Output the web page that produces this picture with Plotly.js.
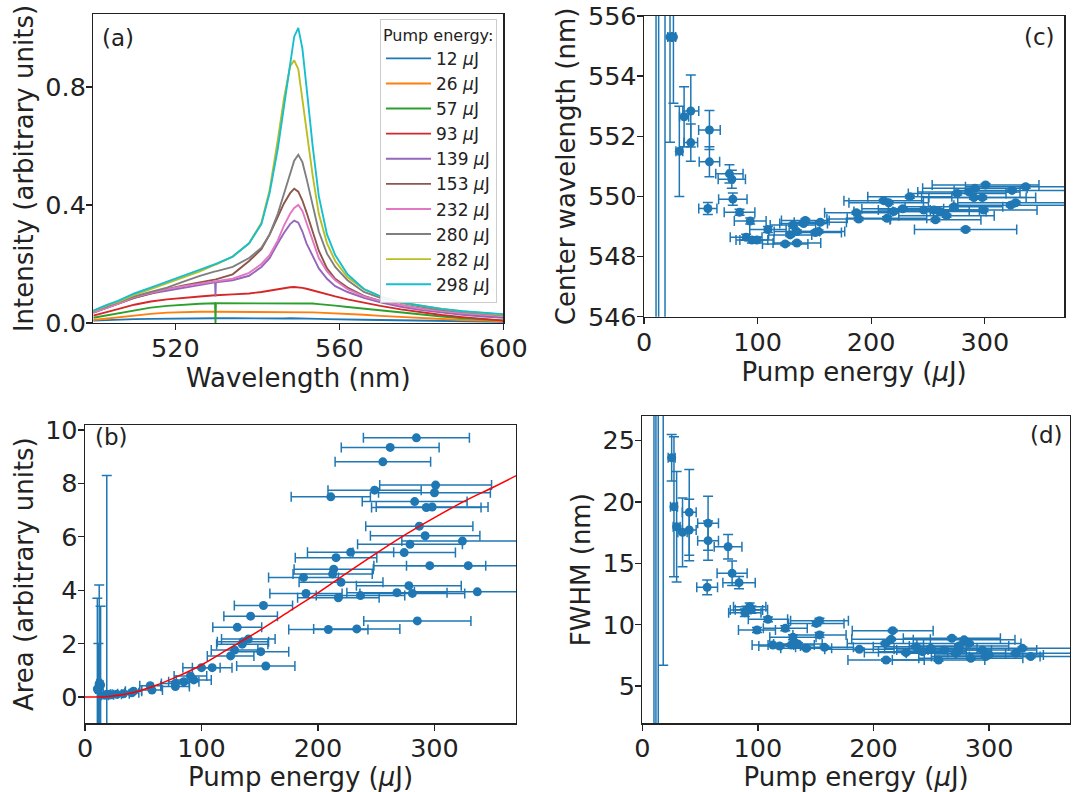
<!DOCTYPE html>
<html><head><meta charset="utf-8">
<script src="https://cdn.plot.ly/plotly-3.0.1.min.js"></script>
<style>html,body{margin:0;padding:0;background:#fff;}#chart{width:1073px;height:792px;}</style>
</head><body><div id="chart"></div>
<script>
// ---------- Panel (a): spectra ----------
const wavelength = [500,503,506,510,514,518,522,526,529.7,529.8,529.9,534,538,541,543,545,546.5,548,549,550,551,552,553.5,555,557,559,562,566,570,575,580,585,590,595,600];
const pumpLabels = ['12','26','57','93','139','153','232','280','282','298'];
const spec12  = [0.008,0.010,0.012,0.013,0.014,0.015,0.016,0.016,0.016,0.016,0.016,0.016,0.015,0.015,0.015,0.015,0.015,0.016,0.016,0.016,0.016,0.015,0.015,0.014,0.013,0.013,0.012,0.011,0.010,0.009,0.008,0.007,0.006,0.005,0.004];
const spec26  = [0.010,0.015,0.020,0.026,0.031,0.035,0.037,0.038,0.038,0.038,0.038,0.037,0.036,0.036,0.036,0.037,0.037,0.038,0.038,0.038,0.037,0.037,0.036,0.035,0.034,0.033,0.031,0.028,0.024,0.020,0.017,0.013,0.010,0.008,0.006];
const spec57  = [0.018,0.025,0.032,0.043,0.052,0.058,0.062,0.065,0.067,0.000,0.067,0.067,0.067,0.067,0.067,0.068,0.068,0.068,0.068,0.068,0.068,0.067,0.066,0.064,0.062,0.059,0.054,0.048,0.042,0.035,0.028,0.022,0.016,0.012,0.009];
const spec93  = [0.025,0.035,0.047,0.062,0.073,0.080,0.086,0.090,0.094,0.094,0.094,0.097,0.100,0.105,0.110,0.115,0.118,0.121,0.122,0.121,0.119,0.116,0.110,0.104,0.097,0.090,0.080,0.068,0.058,0.046,0.036,0.027,0.020,0.013,0.008];
const spec139 = [0.035,0.050,0.065,0.085,0.100,0.110,0.120,0.130,0.138,0.090,0.138,0.145,0.160,0.190,0.220,0.270,0.305,0.335,0.347,0.340,0.310,0.270,0.225,0.185,0.150,0.125,0.105,0.085,0.070,0.055,0.044,0.035,0.028,0.022,0.018];
const spec153 = [0.035,0.050,0.063,0.085,0.100,0.115,0.127,0.138,0.148,0.148,0.148,0.165,0.210,0.250,0.300,0.360,0.405,0.440,0.455,0.445,0.415,0.375,0.310,0.245,0.185,0.150,0.120,0.092,0.075,0.060,0.048,0.040,0.033,0.027,0.022];
const spec232 = [0.035,0.050,0.065,0.088,0.102,0.115,0.125,0.133,0.140,0.140,0.140,0.150,0.170,0.200,0.230,0.280,0.330,0.370,0.390,0.400,0.380,0.340,0.280,0.220,0.175,0.145,0.115,0.090,0.075,0.060,0.048,0.040,0.033,0.028,0.023];
const spec280 = [0.040,0.055,0.068,0.090,0.105,0.120,0.140,0.160,0.175,0.175,0.175,0.190,0.220,0.255,0.300,0.370,0.440,0.510,0.550,0.570,0.545,0.490,0.400,0.310,0.235,0.190,0.145,0.105,0.085,0.068,0.055,0.045,0.038,0.032,0.027];
const spec282 = [0.040,0.058,0.072,0.095,0.115,0.135,0.155,0.175,0.198,0.198,0.198,0.225,0.270,0.340,0.450,0.620,0.760,0.870,0.890,0.860,0.760,0.660,0.500,0.370,0.270,0.210,0.155,0.115,0.090,0.070,0.058,0.048,0.040,0.034,0.028];
const spec298 = [0.042,0.060,0.075,0.100,0.120,0.140,0.160,0.180,0.200,0.200,0.200,0.225,0.270,0.335,0.440,0.590,0.730,0.880,0.970,1.000,0.930,0.800,0.600,0.430,0.300,0.230,0.165,0.115,0.090,0.070,0.058,0.048,0.040,0.035,0.030];
const spectra = [spec12,spec26,spec57,spec93,spec139,spec153,spec232,spec280,spec282,spec298];
const specColors = ['#1f77b4','#ff7f0e','#2ca02c','#d62728','#9467bd','#8c564b','#e377c2','#7f7f7f','#bcbd22','#17becf'];

// ---------- Panel (b): area vs pump energy ----------
const bEnergy    = [284.5,262,255.7,301,248.6,300,211,283,293,298, 287,292,324,279,228,274,215.5,296,329,213.5, 212.6,187.6,219.8,278,189.7,267.8,281,336.8,236.5,217.5, 153.2,142.2,130.7,285.3,208.9,233.3,140.2,135.6,135,128.4, 150.9,125,155.2,100,109.2,90.5,93.4,84.8,77.6,77.6, 56,57.5,41.7,40.2,33,27.3,21.6,17.2];
const bArea      = [9.71,9.35,8.81,7.94,7.75,7.65,7.5,7.32,7.1,7.12, 6.4,6.04,5.84,5.72,5.42,5.41,5.22,4.92,4.92,4.79, 4.61,4.48,4.3,4.17,3.88,3.91,3.88,3.94,3.8,3.72, 3.43,3.03,2.61,2.85,2.53,2.55,2.17,2.07,1.98,1.76, 1.7,1.54,1.16,1.1,1.1,0.79,0.64,0.57,0.39,0.51, 0.42,0.26,0.22,0.16,0.12,0.10,0.08,0.07];
const bEnergyErr = [45.5,42,41,48,40,48,34,45,47,48, 46,47,52,45,37,44,35,48,53,34, 34,30,36,45,31,43,45,54,38,35, 25,23,21,46,34,37,23,22,22,20, 24,20,25,16,17,14,15,13,12,12, 9,9,7,6,5,4,3,3];
const bLowEnergy    = [10.6,12.2,13.4,18.7,11.5];
const bLowArea      = [0.30,0.50,0.45,0.10,0.30];
const bLowEnergyErr = [1.5,2,2,3,1.8];
const bLowAreaErr   = [3.4,3.7,2.95,8.2,1.7];
const fitEnergy = [0,20,40,60,80,100,125,150,175,200,225,250,275,300,325,350,371];
const fitArea   = [0,0.02,0.15,0.42,0.78,1.2,1.85,2.5,3.2,3.9,4.65,5.38,6.08,6.72,7.32,7.85,8.31];

// ---------- Panel (c): center wavelength ----------
const cEnergy    = [22.9,25.9,31.1,35.3,41.2,41.2,57.6,57.6,56.2,75.2, 77.3,78.2,84.1,93.5,89.9,95,99.4,109.1,124.3,134.6, 128.7,134.6,150.8,153.7,131.1,140.5,142,155.2,187,189, 211,215.4,213.9,219.8,227.8,234,246.3,256.6,260.1,266.3, 283.1,272.8,275.7,290.4,297.8,300.7,291.3,299,322.8,327.2, 336,324,286,255.3,10.6,12.9,18.5];
const cCenter    = [555.3,555.3,551.5,552.65,552.84,551.79,552.21,551.15,549.6,550.75, 550.57,549.91,549.47,549.18,548.64,548.55,548.55,548.9,548.42,548.45, 548.72,548.83,548.8,548.83,549.05,549.1,549.2,549.14,549.46,549.25, 549.86,549.79,549.27,549.5,549.59,549.99,549.55,549.22,549.5,549.36, 548.9,549.66,550.1,549.96,549.96,550.38,550.27,549.55,549.71,549.79, 550.32,550.2,550.15,549.55,560,560,560];
const cEnergyErr = [2,2,3,4,7,6,9.5,9,8,12, 12,12.5,13.5,14,14,14,15,16,20,21, 19,20,23,23,20,21,21,23,28,28, 35,35,35,35,36,37,40,40,41,42, 45,43,43,46,47,47,46,47,50,51, 53,51,45,40,1.5,2,3];
const cCenterErr = [3.5,2.2,1.5,1.0,1.2,0.62,0.65,0.5,0.2,0.3, 0.3,0.2,0.1,0.1,0.1,0.1,0.1,0.1,0.05,0.05, 0.05,0.05,0.05,0.05,0.05,0.05,0.05,0.05,0.05,0.05, 0.05,0.05,0.05,0.05,0.05,0.05,0.05,0.05,0.05,0.05, 0.05,0.05,0.05,0.05,0.05,0.05,0.05,0.05,0.05,0.05, 0.05,0.05,0.05,0.05,40,40,40];

// ---------- Panel (d): FWHM ----------
const dEnergy    = [25.4,27.4,29.7,34.8,40.6,40.6,56.9,56.9,56.1,74.2, 77.7,83.7,92.9,90.1,88.7,94.4,108.7,99.2,123.7,130.3, 153.3,153.3,150.5,134.6,128.8,141.8,118.8,113,157.6,216.6, 210.9,215.2,210.3,187.8,228.1,236.8,267.8,278.4,282.6,256.3, 249.6,261.1,271.3,284.2,294.2,297.1,300,323,328.8,336, 274,242.3,10.1,11.8,13.8,18.1];
const dFwhm      = [23.6,19.6,17.98,17.52,19.15,17.71,18.26,16.84,13.04,16.35, 14.18,13.42,11.46,11.19,10.97,11.22,10.43,9.56,9.7,8.97, 9.16,10.32,10.1,8.42,8.34,8.07,8.26,8.34,8.15,9.51, 7.12,8.8,8.47,7.99,7.72,8.2,8.89,8.76,8.47,7.12, 8.07,7.94,7.67,7.26,7.94,7.4,7.53,7.67,8.07,7.4, 8.26,7.8,40,40,40,30];
const dEnergyErr = [3,3,3,4,6,6,9,9,9,12, 13,14,14,14,14,14,17,16,19,20, 23,25,24,21,20,22,18,18,25,35, 33,34,33,30,36,37,42,44,45,40, 40,41,43,45,47,47,47,52,52,53, 43,38,1.5,2,2,3];
const dFwhmErr   = [1.9,5.7,4.5,2.8,3.5,2.5,2.2,1.6,0.6,1.0, 1.0,0.5,0.3,0.3,0.3,0.3,0.2,0.2,0.2,0.2, 0.2,0.2,0.2,0.1,0.1,0.1,0.1,0.1,0.1,0.1, 0.1,0.1,0.1,0.1,0.1,0.1,0.1,0.1,0.1,0.1, 0.1,0.1,0.1,0.1,0.1,0.1,0.1,0.1,0.1,0.1, 0.1,0.1,60,60,60,23.3];

// ---------- build ----------
const BLUE = '#1f77b4';
const traces = [];
spectra.forEach((s, i) => {
  traces.push({
    type: 'scatter', mode: 'lines', x: wavelength, y: s, xaxis: 'x', yaxis: 'y',
    name: pumpLabels[i] + ' <i>μ</i>J', line: {color: specColors[i], width: 1.9},
    legendgroup: 'g' + i, showlegend: true
  });
});
function errTrace(x, y, ex, ey, xa, ya) {
  const t = {
    type: 'scatter', mode: 'markers', x: x, y: y, xaxis: xa, yaxis: ya, showlegend: false,
    marker: {color: BLUE, size: 9},
    error_x: {type: 'data', array: ex, visible: true, color: BLUE, thickness: 1.5, width: 5}
  };
  if (ey) t.error_y = {type: 'data', array: ey, visible: true, color: BLUE, thickness: 1.5, width: 5};
  return t;
}
traces.push(errTrace(bEnergy, bArea, bEnergyErr, null, 'x3', 'y3'));
traces.push(errTrace(bLowEnergy, bLowArea, bLowEnergyErr, bLowAreaErr, 'x3', 'y3'));
traces.push({type: 'scatter', mode: 'lines', x: fitEnergy, y: fitArea, xaxis: 'x3', yaxis: 'y3', showlegend: false, line: {color: '#ff0000', width: 1.5, shape: 'spline'}});
traces.push(errTrace(cEnergy, cCenter, cEnergyErr, cCenterErr, 'x2', 'y2'));
traces.push(errTrace(dEnergy, dFwhm, dEnergyErr, dFwhmErr, 'x4', 'y4'));

const FONT = 'DejaVu Sans, Liberation Sans, sans-serif';
function ax(extra, isY) {
  return Object.assign({
    showline: true, linecolor: '#222', linewidth: 1.3, mirror: true,
    ticks: 'outside', ticklen: 6, tickwidth: 1.3, tickcolor: '#222',
    showgrid: false, zeroline: false, tickfont: {size: 25.5, color: '#222'},
    ticklabelstandoff: isY ? -5 : -4,
    automargin: false
  }, extra);
}
const tfont = {size: 26, color: '#222'};
const layout = {
  width: 1073, height: 792, margin: {l: 0, r: 0, t: 0, b: 0},
  paper_bgcolor: '#fff', plot_bgcolor: '#fff',
  font: {family: FONT, color: '#222'},
  showlegend: true,
  legend: {
    x: 497 / 1073, xanchor: 'right', y: 1 - 19 / 792, yanchor: 'top',
    bgcolor: 'rgba(255,255,255,0.9)', bordercolor: '#cccccc', borderwidth: 1,
    font: {size: 17, color: '#222'}, title: {text: 'Pump energy:', font: {size: 16, color: '#222'}},
    traceorder: 'grouped', tracegroupgap: 0, itemwidth: 45
  },
  xaxis: ax({domain: [93.3 / 1073, 503.3 / 1073], range: [500, 600], tickvals: [520, 560, 600], anchor: 'y',
    title: {text: 'Wavelength (nm)', font: tfont, standoff: 4}}),
  yaxis: ax({domain: [1 - 323 / 792, 1 - 14 / 792], range: [0, 1.047], tickvals: [0, 0.4, 0.8], ticktext: ['0.0', '0.4', '0.8'], anchor: 'x',
    title: {text: 'Intensity (arbitrary units)', font: tfont, standoff: 4}}, true),
  xaxis2: ax({domain: [644 / 1073, 1064.3 / 1073], range: [0, 370], tickvals: [0, 100, 200, 300], anchor: 'y2',
    title: {text: 'Pump energy (<i>μ</i>J)', font: tfont, standoff: 4}}),
  yaxis2: ax({domain: [1 - 316.7 / 792, 1 - 16 / 792], range: [546, 556], tickvals: [546, 548, 550, 552, 554, 556], anchor: 'x2',
    title: {text: 'Center wavelength (nm)', font: tfont, standoff: 4}}, true),
  xaxis3: ax({domain: [85 / 1073, 516 / 1073], range: [0, 370], tickvals: [0, 100, 200, 300], anchor: 'y3',
    title: {text: 'Pump energy (<i>μ</i>J)', font: tfont, standoff: 4}}),
  yaxis3: ax({domain: [1 - 723.3 / 792, 1 - 425 / 792], range: [-0.985, 10.19], tickvals: [0, 2, 4, 6, 8, 10], anchor: 'x3',
    title: {text: 'Area (arbitrary units)', font: tfont, standoff: 4}}, true),
  xaxis4: ax({domain: [642.3 / 1073, 1070 / 1073], range: [0, 370], tickvals: [0, 100, 200, 300], anchor: 'y4',
    title: {text: 'Pump energy (<i>μ</i>J)', font: tfont, standoff: 4}}),
  yaxis4: ax({domain: [1 - 723.3 / 792, 1 - 416 / 792], range: [1.96, 27.0], tickvals: [5, 10, 15, 20, 25], anchor: 'x4',
    title: {text: 'FWHM (nm)', font: tfont, standoff: 4}}, true),
  annotations: [
    {text: '(a)', xref: 'paper', yref: 'paper', x: 100 / 1073, y: 1 - 38 / 792, xanchor: 'left', yanchor: 'middle', showarrow: false, font: {size: 23, color: '#222'}},
    {text: '(c)', xref: 'paper', yref: 'paper', x: 1057 / 1073, y: 1 - 37 / 792, xanchor: 'right', yanchor: 'middle', showarrow: false, font: {size: 23, color: '#222'}},
    {text: '(b)', xref: 'paper', yref: 'paper', x: 93 / 1073, y: 1 - 437 / 792, xanchor: 'left', yanchor: 'middle', showarrow: false, font: {size: 23, color: '#222'}},
    {text: '(d)', xref: 'paper', yref: 'paper', x: 1065 / 1073, y: 1 - 435 / 792, xanchor: 'right', yanchor: 'middle', showarrow: false, font: {size: 23, color: '#222'}}
  ]
};
Plotly.newPlot('chart', traces, layout, {displayModeBar: false, staticPlot: true});
</script></body></html>
